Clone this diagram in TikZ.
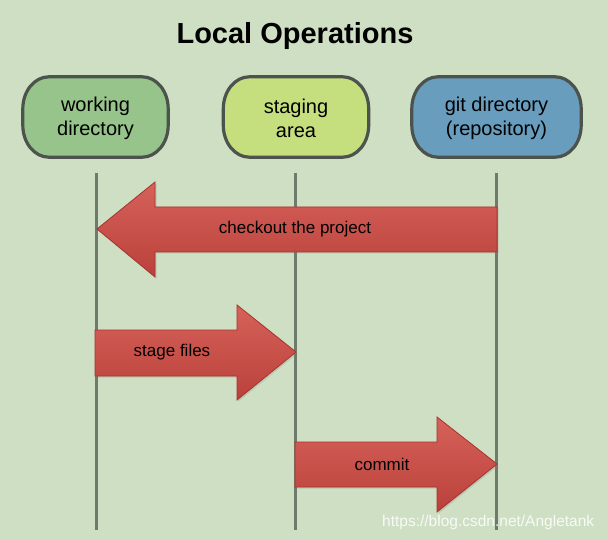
\documentclass[tikz,border=0pt]{standalone}
\usepackage{fontspec}
\setmainfont{Liberation Sans}
\usetikzlibrary{shadows}
\definecolor{bgc}{RGB}{206,223,195}
\definecolor{wdc}{RGB}{150,196,138}
\definecolor{sac}{RGB}{197,222,126}
\definecolor{gdc}{RGB}{104,157,190}
\definecolor{edgec}{RGB}{76,82,76}
\definecolor{lanec}{RGB}{110,122,108}
\definecolor{arrtop}{RGB}{214,98,90}
\definecolor{arrbot}{RGB}{186,65,59}
\definecolor{arredge}{RGB}{168,50,46}
\tikzset{
  boxtext/.style={align=center, font=\fontsize{20}{24}\selectfont, text=black,
    minimum height=79pt, inner sep=0pt},
  boxline/.style={draw=edgec, line width=3.2pt},
  lane/.style={draw=lanec, line width=3pt},
  bigarrow/.style={draw=arredge, line width=0.8pt, top color=arrtop, bottom color=arrbot,
    drop shadow={shadow xshift=1.5pt, shadow yshift=-1.5pt, opacity=0.25}},
  arrtext/.style={font=\fontsize{17}{20}\selectfont, text=black},
}
% rounded box with elliptical corners (rx=26pt, ry=32pt)
\newcommand{\stadiumbox}[2]{%
  \path[boxline, fill=#2] ([xshift=26pt]#1.north west) -- ([xshift=-26pt]#1.north east)
    arc[start angle=90, end angle=0, x radius=26pt, y radius=32pt]
    -- ([yshift=32pt]#1.south east)
    arc[start angle=0, end angle=-90, x radius=26pt, y radius=32pt]
    -- ([xshift=26pt]#1.south west)
    arc[start angle=270, end angle=180, x radius=26pt, y radius=32pt]
    -- ([yshift=-32pt]#1.north west)
    arc[start angle=180, end angle=90, x radius=26pt, y radius=32pt] -- cycle;}
\begin{document}
\begin{tikzpicture}[x=1pt, y=-1pt]
\fill[bgc] (0,0) rectangle (608,540);
\useasboundingbox (0,0) rectangle (608,540);
% title
\node[font=\fontsize{29}{34}\selectfont\bfseries, anchor=base] (title) at (295,44) {Local Operations};
% box outlines (empty nodes give the anchors)
\path (95.5,117) node[minimum width=145pt, minimum height=80pt, inner sep=0pt] (wdshape) {};
\path (296,117) node[minimum width=145pt, minimum height=80pt, inner sep=0pt] (sashape) {};
\path (496.5,117) node[minimum width=169pt, minimum height=80pt, inner sep=0pt] (gdshape) {};
\stadiumbox{wdshape}{wdc}
\stadiumbox{sashape}{sac}
\stadiumbox{gdshape}{gdc}
\node[boxtext] (wd) at (95.5,118) {working\\directory};
\node[boxtext] (sa) at (296,118) {staging\\area};
\node[boxtext] (gd) at (496.5,118) {git directory\\(repository)};
% lanes
\coordinate (wdT) at (96,173);  \coordinate (wdB) at (96,530);
\coordinate (saT) at (295,173); \coordinate (saB) at (295,530);
\coordinate (gdT) at (496,173); \coordinate (gdB) at (496,530);
\draw[lane] (wdT) -- (wdB);
\draw[lane] (saT) -- (saB);
\draw[lane] (gdT) -- (gdB);
% arrows
\path[bigarrow] (97,229) -- (155,182) -- (155,207) -- (497,207) -- (497,252) -- (155,252) -- (155,277) -- cycle;
\node[arrtext] (co) at (295,229) {checkout the project};
\path[bigarrow] (95,330) -- (237,330) -- (237,305) -- (296,352) -- (237,400) -- (237,376) -- (95,376) -- cycle;
\node[arrtext] (sf) at (172,352) {stage files};
\path[bigarrow] (295,442) -- (437,442) -- (437,417) -- (497,464) -- (437,512) -- (437,487) -- (295,487) -- cycle;
\node[arrtext] (cm) at (382,464) {commit};
% watermark
\node[anchor=base west, text=white, opacity=0.85, font=\fontsize{15.5}{18}\selectfont, inner sep=0pt] (wm) at (382,526) {https://blog.csdn.net/Angletank};
\end{tikzpicture}
\end{document}
